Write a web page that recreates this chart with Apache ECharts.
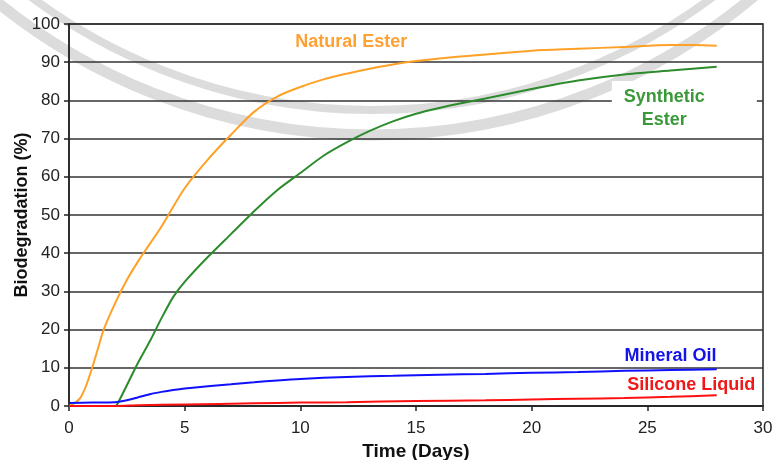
<!DOCTYPE html>
<html>
<head>
<meta charset="utf-8">
<script src="https://cdn.jsdelivr.net/npm/echarts@6/dist/echarts.min.js"></script>
<style>
  html, body { margin: 0; padding: 0; background: #fff; }
  #chart { width: 772px; height: 460px; }
</style>
</head>
<body>
<div id="chart"></div>
<script>
// ---- data ----
const naturalDays   = [0, 0.25, 0.5, 0.75, 1, 1.25, 1.5, 2, 2.5, 3, 3.5, 4, 5, 6, 7, 8, 9, 10, 11, 12, 13, 14, 15, 16, 18, 20, 22, 24, 26, 27, 28];
const naturalValues = [0, 0.8, 2.2, 5.5, 10, 15, 20, 27, 33, 38, 42.5, 47, 57, 64.5, 71, 77, 81, 83.5, 85.5, 87, 88.3, 89.4, 90.3, 91, 92, 93, 93.5, 94, 94.5, 94.5, 94.3];

const syntheticDays   = [0, 1, 2, 2.1, 3, 3.5, 4, 4.5, 5, 6, 7, 8, 9, 10, 11, 12, 13, 14, 15, 16, 17, 18, 20, 22, 24, 26, 28];
const syntheticValues = [0, 0, 0, 0.6, 11.5, 17, 23, 28.5, 32.5, 39, 45, 51, 56.5, 61, 65.5, 69, 72, 74.5, 76.5, 78, 79.3, 80.5, 83, 85.2, 86.8, 87.8, 88.8];

const mineralDays   = [0, 1, 2, 2.5, 3, 3.5, 4, 4.5, 5, 6, 7, 8, 9, 10, 12, 14, 16, 18, 20, 22, 24, 26, 28];
const mineralValues = [0.8, 0.9, 1.0, 1.5, 2.3, 3.1, 3.7, 4.2, 4.6, 5.2, 5.7, 6.2, 6.7, 7.1, 7.6, 7.9, 8.2, 8.4, 8.7, 8.9, 9.2, 9.4, 9.6];

const siliconeDays   = [0, 2, 3, 5, 8, 10, 12, 15, 18, 20, 22, 24, 26, 28];
const siliconeValues = [0, 0, 0.2, 0.4, 0.7, 0.9, 1.0, 1.3, 1.5, 1.7, 1.9, 2.1, 2.4, 2.8];

const seriesNames = ['Natural Ester', 'Synthetic Ester', 'Mineral Oil', 'Silicone Liquid'];
const xTicks = [0, 5, 10, 15, 20, 25, 30];
const yTicks = [0, 10, 20, 30, 40, 50, 60, 70, 80, 90, 100];
const xTitle = 'Time (Days)';
const yTitle = 'Biodegradation (%)';

// label anchor positions in data units
const labelNatural   = [12.2, 95.3];
const labelSynthetic = [26.6, 78.0];
const labelMineral   = [26.0, 13.1];
const labelSilicone  = [26.9, 5.5];

function pairs(xs, ys) { return xs.map((x, i) => [x, ys[i]]); }

const chart = echarts.init(document.getElementById('chart'), null, { renderer: 'canvas' });
const FONT = 'Liberation Sans, Arial, sans-serif';

function labelPoint(coord, text, color, extra) {
  return {
    symbol: 'rect', symbolSize: 1, silent: true,
    itemStyle: { color: 'rgba(0,0,0,0)' },
    data: [{ coord: coord, value: text }],
    label: Object.assign({
      show: true, position: 'inside', formatter: text,
      color: color, fontFamily: FONT,
      fontWeight: 'bold', fontSize: 18
    }, extra || {})
  };
}

function lineSeries(name, data, color, mp, smooth) {
  return {
    name: name, type: 'line', data: data,
    showSymbol: false, symbol: 'none',
    smooth: smooth,
    lineStyle: { color: color, width: 2 },
    itemStyle: { color: color },
    markPoint: mp, z: 3
  };
}

const wmColor = 'rgba(205,205,205,0.7)';

chart.setOption({
  animation: false,
  backgroundColor: '#fff',
  grid: { left: 69, right: 9, top: 24, bottom: 54, containLabel: false, outerBoundsMode: 'none',
          show: true, borderColor: '#222', borderWidth: 1.5, backgroundColor: 'transparent' },
  graphic: [
    { type: 'arc', z: -10, silent: true, shape: { cx: 372, cy: -460, r: 595, startAngle: 0, endAngle: Math.PI }, style: { stroke: wmColor, lineWidth: 11, fill: null } },
    { type: 'arc', z: -10, silent: true, shape: { cx: 372, cy: -460, r: 570, startAngle: 0, endAngle: Math.PI }, style: { stroke: wmColor, lineWidth: 8, fill: null } }
  ],
  xAxis: {
    type: 'value', min: 0, max: 30, interval: 5,
    name: xTitle, nameLocation: 'middle', nameGap: 36, nameMoveOverlap: false,
    nameTextStyle: { fontFamily: FONT, fontWeight: 'bold', fontSize: 19, color: '#111' },
    axisLine: { show: true, lineStyle: { color: '#222', width: 1.5 } },
    axisTick: { show: true, length: 5, lineStyle: { color: '#222', width: 1.5 } },
    axisLabel: { margin: 14, fontFamily: FONT, fontSize: 17, color: '#222',
                 formatter: v => xTicks.includes(v) ? String(v) : '' },
    splitLine: { show: false }
  },
  yAxis: {
    type: 'value', min: 0, max: 100, interval: 10,
    name: yTitle, nameLocation: 'middle', nameGap: 38, nameRotate: 90, nameMoveOverlap: false,
    nameTextStyle: { fontFamily: FONT, fontWeight: 'bold', fontSize: 18, color: '#111' },
    axisLine: { show: true, lineStyle: { color: '#222', width: 1.5 } },
    axisTick: { show: true, length: 5, lineStyle: { color: '#222', width: 1.5 } },
    axisLabel: { margin: 9, fontFamily: FONT, fontSize: 17, color: '#222',
                 formatter: v => yTicks.includes(v) ? String(v) : '' },
    splitLine: { show: true, lineStyle: { color: '#333', width: 1.5 } }
  },
  series: [
    lineSeries(seriesNames[0], pairs(naturalDays, naturalValues), '#FFA126',
      labelPoint(labelNatural, seriesNames[0], '#FFA033'), 0.3),
    lineSeries(seriesNames[1], pairs(syntheticDays, syntheticValues), '#2C8C2C',
      labelPoint(labelSynthetic, 'Synthetic\nEster', '#3A9A3A',
        { backgroundColor: '#fff', padding: [4, 52, 4, 12], lineHeight: 23, align: 'center' }), 0.2),
    lineSeries(seriesNames[2], pairs(mineralDays, mineralValues), '#1010FF',
      labelPoint(labelMineral, seriesNames[2], '#1414E8'), 0.3),
    lineSeries(seriesNames[3], pairs(siliconeDays, siliconeValues), '#FF1010',
      labelPoint(labelSilicone, seriesNames[3], '#F01818'), 0.3)
  ]
});
</script>
</body>
</html>
